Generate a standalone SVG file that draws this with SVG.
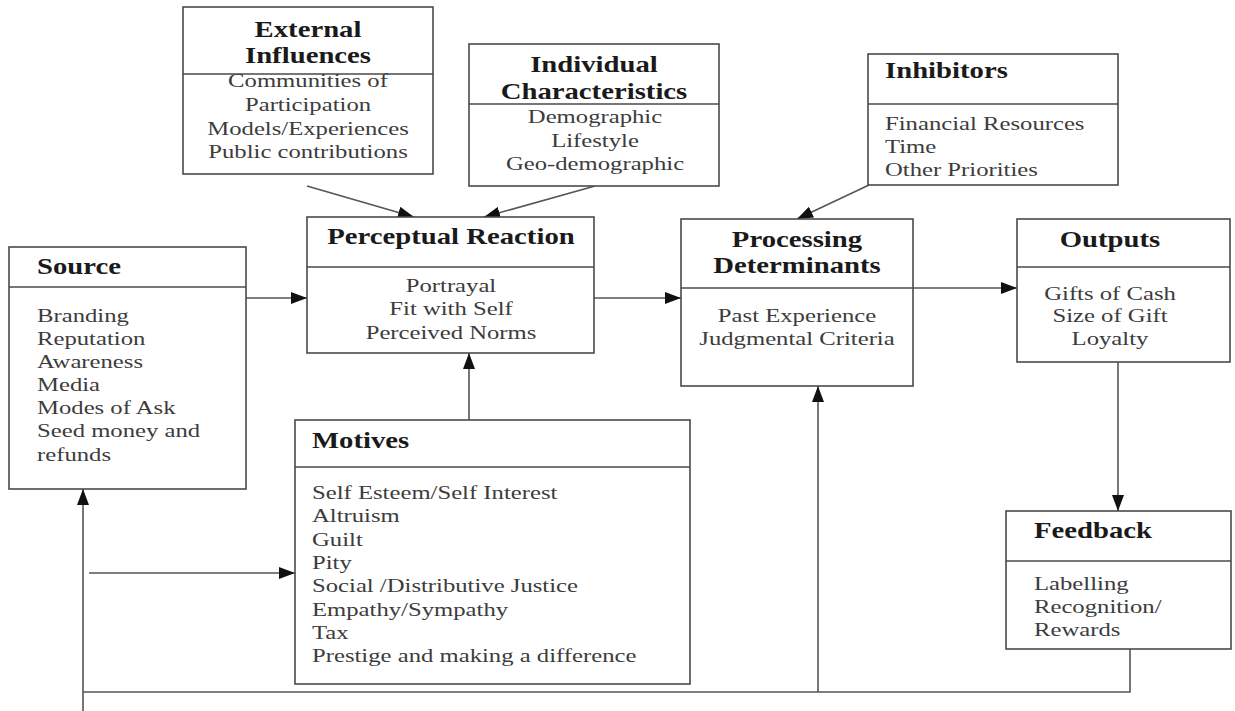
<svg xmlns="http://www.w3.org/2000/svg" width="1235" height="711" viewBox="0 0 1235 711">
  <style>
    .box { fill: #ffffff; stroke: #4a4a4a; stroke-width: 1.6; }
    .div { stroke: #4a4a4a; stroke-width: 1.6; }
    .head { font-family: "Liberation Serif", "Times New Roman", serif; font-weight: bold; font-size: 22.8px; fill: #1a1a1a; }
    .body { font-family: "Liberation Serif", "Times New Roman", serif; font-size: 19.6px; fill: #3c3c3c; }
    .mid { text-anchor: middle; }
    .link { fill: none; stroke: #555555; stroke-width: 1.6; }
  </style>
  <defs>
    <marker id="arrow" viewBox="0 0 16 12" refX="16" refY="6" markerWidth="16" markerHeight="12" markerUnits="userSpaceOnUse" orient="auto">
      <path d="M0,0 L16,6 L0,12 Z" fill="#111111"/>
    </marker>
  </defs>
  <rect width="1235" height="711" fill="#ffffff"/>

  <!-- connectors -->
  <g id="connectors">
    <line class="link" x1="307" y1="186" x2="414" y2="217" marker-end="url(#arrow)"/>
    <line class="link" x1="595" y1="186" x2="484" y2="217" marker-end="url(#arrow)"/>
    <line class="link" x1="869" y1="185" x2="797" y2="219" marker-end="url(#arrow)"/>
    <line class="link" x1="246" y1="298" x2="307" y2="298" marker-end="url(#arrow)"/>
    <line class="link" x1="594" y1="298" x2="681" y2="298" marker-end="url(#arrow)"/>
    <line class="link" x1="913" y1="288" x2="1017" y2="288" marker-end="url(#arrow)"/>
    <line class="link" x1="469" y1="420" x2="469" y2="353" marker-end="url(#arrow)"/>
    <line class="link" x1="1118" y1="362" x2="1118" y2="511" marker-end="url(#arrow)"/>
    <!-- feedback loop back to the start -->
    <polyline class="link" points="1130,649 1130,692 83,692"/>
    <line class="link" x1="83" y1="711" x2="83" y2="489" marker-end="url(#arrow)"/>
    <line class="link" x1="818" y1="692" x2="818" y2="386" marker-end="url(#arrow)"/>
    <line class="link" x1="89" y1="573" x2="295" y2="573" marker-end="url(#arrow)"/>
  </g>

  <g id="external-influences">
    <rect class="box" x="183" y="7" width="250" height="167"/>
    <line class="div" x1="183" y1="74" x2="433" y2="74"/>
    <text class="head mid" transform="translate(308 37) scale(1.26 1)">External</text>
    <text class="head mid" transform="translate(308 63) scale(1.26 1)">Influences</text>
    <text class="body mid" transform="translate(308 87) scale(1.26 1)">Communities of</text>
    <text class="body mid" transform="translate(308 111) scale(1.26 1)">Participation</text>
    <text class="body mid" transform="translate(308 135) scale(1.26 1)">Models/Experiences</text>
    <text class="body mid" transform="translate(308 158) scale(1.26 1)">Public contributions</text>
  </g>

  <g id="individual-characteristics">
    <rect class="box" x="469" y="44" width="250" height="142"/>
    <line class="div" x1="469" y1="104" x2="719" y2="104"/>
    <text class="head mid" transform="translate(594 72) scale(1.26 1)">Individual</text>
    <text class="head mid" transform="translate(594 99) scale(1.26 1)">Characteristics</text>
    <text class="body mid" transform="translate(595 123) scale(1.26 1)">Demographic</text>
    <text class="body mid" transform="translate(595 147) scale(1.26 1)">Lifestyle</text>
    <text class="body mid" transform="translate(595 170) scale(1.26 1)">Geo-demographic</text>
  </g>

  <g id="inhibitors">
    <rect class="box" x="868" y="54" width="250" height="131"/>
    <line class="div" x1="868" y1="104" x2="1118" y2="104"/>
    <text class="head" transform="translate(885 78) scale(1.26 1)">Inhibitors</text>
    <text class="body" transform="translate(885 130) scale(1.26 1)">Financial Resources</text>
    <text class="body" transform="translate(885 153) scale(1.26 1)">Time</text>
    <text class="body" transform="translate(885 176) scale(1.26 1)">Other Priorities</text>
  </g>

  <g id="source">
    <rect class="box" x="9" y="247" width="237" height="242"/>
    <line class="div" x1="9" y1="287" x2="246" y2="287"/>
    <text class="head" transform="translate(37 274) scale(1.26 1)">Source</text>
    <text class="body" transform="translate(37 322) scale(1.26 1)">Branding</text>
    <text class="body" transform="translate(37 345) scale(1.26 1)">Reputation</text>
    <text class="body" transform="translate(37 368) scale(1.26 1)">Awareness</text>
    <text class="body" transform="translate(37 391) scale(1.26 1)">Media</text>
    <text class="body" transform="translate(37 414) scale(1.26 1)">Modes of Ask</text>
    <text class="body" transform="translate(37 437) scale(1.26 1)">Seed money and</text>
    <text class="body" transform="translate(37 461) scale(1.26 1)">refunds</text>
  </g>

  <g id="perceptual-reaction">
    <rect class="box" x="307" y="217" width="287" height="136"/>
    <line class="div" x1="307" y1="267" x2="594" y2="267"/>
    <text class="head mid" transform="translate(451 244) scale(1.26 1)">Perceptual Reaction</text>
    <text class="body mid" transform="translate(451 292) scale(1.26 1)">Portrayal</text>
    <text class="body mid" transform="translate(451 315) scale(1.26 1)">Fit with Self</text>
    <text class="body mid" transform="translate(451 339) scale(1.26 1)">Perceived Norms</text>
  </g>

  <g id="processing-determinants">
    <rect class="box" x="681" y="219" width="232" height="167"/>
    <line class="div" x1="681" y1="288" x2="913" y2="288"/>
    <text class="head mid" transform="translate(797 247) scale(1.26 1)">Processing</text>
    <text class="head mid" transform="translate(797 273) scale(1.26 1)">Determinants</text>
    <text class="body mid" transform="translate(797 322) scale(1.26 1)">Past Experience</text>
    <text class="body mid" transform="translate(797 345) scale(1.26 1)">Judgmental Criteria</text>
  </g>

  <g id="outputs">
    <rect class="box" x="1017" y="219" width="213" height="143"/>
    <line class="div" x1="1017" y1="267" x2="1230" y2="267"/>
    <text class="head mid" transform="translate(1110 247) scale(1.26 1)">Outputs</text>
    <text class="body mid" transform="translate(1110 300) scale(1.26 1)">Gifts of Cash</text>
    <text class="body mid" transform="translate(1110 322) scale(1.26 1)">Size of Gift</text>
    <text class="body mid" transform="translate(1110 345) scale(1.26 1)">Loyalty</text>
  </g>

  <g id="motives">
    <rect class="box" x="295" y="420" width="395" height="264"/>
    <line class="div" x1="295" y1="467" x2="690" y2="467"/>
    <text class="head" transform="translate(312 448) scale(1.26 1)">Motives</text>
    <text class="body" transform="translate(312 499) scale(1.26 1)">Self Esteem/Self Interest</text>
    <text class="body" transform="translate(312 522) scale(1.26 1)">Altruism</text>
    <text class="body" transform="translate(312 546) scale(1.26 1)">Guilt</text>
    <text class="body" transform="translate(312 569) scale(1.26 1)">Pity</text>
    <text class="body" transform="translate(312 592) scale(1.26 1)">Social /Distributive Justice</text>
    <text class="body" transform="translate(312 616) scale(1.26 1)">Empathy/Sympathy</text>
    <text class="body" transform="translate(312 639) scale(1.26 1)">Tax</text>
    <text class="body" transform="translate(312 662) scale(1.26 1)">Prestige and making a difference</text>
  </g>

  <g id="feedback">
    <rect class="box" x="1006" y="511" width="225" height="138"/>
    <line class="div" x1="1006" y1="561" x2="1231" y2="561"/>
    <text class="head" transform="translate(1034 538) scale(1.26 1)">Feedback</text>
    <text class="body" transform="translate(1034 590) scale(1.26 1)">Labelling</text>
    <text class="body" transform="translate(1034 613) scale(1.26 1)">Recognition/</text>
    <text class="body" transform="translate(1034 636) scale(1.26 1)">Rewards</text>
  </g>
</svg>
